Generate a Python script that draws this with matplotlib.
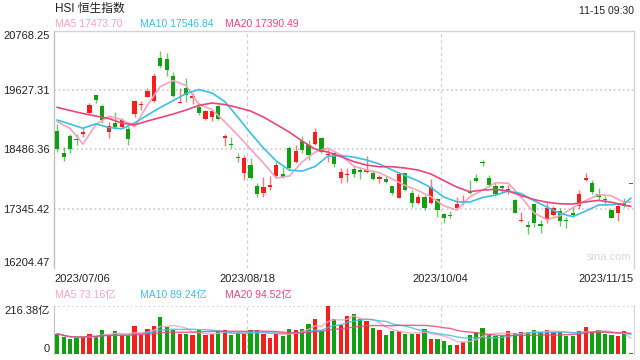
import numpy as np
import pandas as pd
import matplotlib
matplotlib.use('Agg')
import matplotlib.pyplot as plt

plt.rcParams['font.family'] = ['Liberation Sans', 'Noto Sans CJK SC', 'DejaVu Sans']

# daily candles 2023/07/06 .. 2023/11/15
opens = [18844, 18410, 18742, 18670, 18775, 19191, 19531, 19320, 18825, 18987,
         18921, 18871, 19166, 19330, 19498, 19416, 20237, 20218, 19897, 19383,
         19660, 19479, 19294, 19064, 19114, 19320, 18698, 18575, 18338, 18025,
         18184, 17780, 17640, 17755, 17973, 18011, 18517, 18248, 18652, 18569,
         18588, 18698, 18370, 18410, 17928, 17985, 18102, 18088, 18055, 18036,
         17921, 17909, 17780, 17555, 18025, 17640, 17459, 17574, 17459, 17524,
         17236, 17215, 17351, 17470, 17690, 17928, 18235, 17928, 17780, 17780,
         17698, 17511, 17108, 17030, 17434, 17043, 17126, 17222, 17305, 17112,
         17267, 17396, 17896, 17844, 17626, 17516, 17319, 17255, 17459, 17825]
highs = [18967, 18531, 18781, 18775, 18921, 19377, 19540, 19358, 19017, 19210,
         19089, 18935, 19435, 19416, 19672, 19949, 20378, 20334, 19979, 19660,
         19852, 19564, 19371, 19243, 19243, 19339, 18775, 18729, 18425, 18377,
         18313, 17844, 17948, 17973, 18248, 18140, 18550, 18569, 18742, 18665,
         18902, 18729, 18487, 18440, 18121, 18121, 18184, 18152, 18358, 18088,
         17992, 17973, 17790, 18055, 18036, 17703, 17626, 17607, 17909, 17549,
         17267, 17305, 17574, 17607, 17896, 18011, 18281, 17992, 17832, 17800,
         17800, 17530, 17286, 17113, 17440, 17126, 17459, 17396, 17357, 17190,
         17396, 17703, 18025, 17896, 17736, 17588, 17338, 17447, 17549, 17825]
lows = [18440, 18267, 18415, 18569, 18729, 19166, 19371, 18993, 18710, 18871,
        18896, 18563, 19114, 19243, 19487, 19402, 20045, 19902, 19487, 19371,
        19402, 19358, 19146, 19050, 19031, 19050, 18550, 18506, 18248, 17896,
        17909, 17563, 17563, 17703, 17928, 17928, 18102, 18229, 18421, 18281,
        18569, 18421, 18248, 18152, 17832, 17863, 17959, 17909, 18025, 17896,
        17832, 17832, 17607, 17549, 17690, 17370, 17444, 17319, 17444, 17190,
        17074, 17159, 17338, 17415, 17626, 17850, 18165, 17771, 17588, 17640,
        17621, 17261, 17088, 16857, 16986, 16882, 17063, 17203, 17011, 16966,
        17184, 17332, 17882, 17626, 17511, 17434, 17165, 17113, 17377, 17815]
closes = [18487, 18344, 18487, 18660, 18825, 19339, 19435, 19050, 18935, 18921,
          19050, 18679, 19416, 19345, 19608, 19897, 20089, 20012, 19512, 19402,
          19531, 19512, 19179, 19223, 19223, 19064, 18742, 18565, 18326, 18313,
          17928, 17626, 17767, 17800, 18184, 17948, 18121, 18460, 18473, 18377,
          18825, 18440, 18385, 18198, 18055, 18000, 18005, 18050, 18088, 17915,
          17959, 17863, 17651, 18005, 17703, 17459, 17563, 17351, 17755, 17319,
          17170, 17205, 17428, 17485, 17651, 17877, 18225, 17800, 17621, 17748,
          17710, 17267, 17118, 16986, 17063, 17011, 17351, 17363, 17113, 17100,
          17222, 17626, 17928, 17671, 17563, 17506, 17170, 17396, 17396, 17815]
# turnover, 亿
volume = [91.3, 76.5, 66.2, 73.6, 76.5, 91.3, 79.5, 110.4, 83.9, 101.6,
          83.9, 79.5, 128.1, 83.9, 113.3, 128.1, 167.8, 123.6, 110.4, 88.3,
          91.3, 83.9, 106.0, 83.9, 88.3, 103.0, 110.4, 83.9, 98.6, 88.3,
          106.0, 106.0, 91.3, 73.6, 88.3, 79.5, 114.8, 110.4, 114.8, 135.4,
          159.0, 103.0, 216.38, 159.0, 129.5, 172.2, 182.5, 157.5, 147.2, 117.8,
          106.0, 83.9, 101.6, 103.0, 91.3, 91.3, 91.3, 114.8, 69.2, 69.2,
          58.9, 42.7, 42.7, 54.5, 83.9, 98.6, 119.2, 83.9, 82.4, 82.4,
          103.0, 94.2, 98.6, 98.6, 106.0, 98.6, 108.9, 98.6, 98.6, 81.0,
          82.4, 103.0, 123.6, 98.6, 110.4, 88.3, 83.9, 81.0, 101.6, 2.9]

# moving averages read every second day
ma_idx = list(range(0, 89, 2)) + [89]
ma5 = [19017, 18890, 18588, 18964, 19121, 19060, 18921, 19339, 19695, 19810,
       19714, 19348, 19252, 19017, 18762, 18492, 18223, 17934, 17973, 18242,
       18434, 18511, 18377, 18165, 18088, 18036, 17915, 17790, 17694, 17574,
       17401, 17319, 17569, 17703, 17844, 17834, 17569, 17261, 17134, 17207,
       17361, 17501, 17613, 17594, 17463, 17473.70]
ma10 = [19050, 18973, 18892, 18977, 18906, 18881, 18993, 19146, 19291, 19425,
        19560, 19637, 19570, 19406, 19108, 18800, 18511, 18261, 18088, 18069,
        18155, 18358, 18367, 18338, 18281, 18204, 18088, 17982, 17878, 17751,
        17569, 17478, 17472, 17561, 17605, 17684, 17636, 17497, 17376, 17255,
        17193, 17299, 17415, 17421, 17444, 17546.84]
ma20 = [19294, 19233, 19175, 19127, 19079, 18993, 18958, 19031, 19098, 19166,
        19243, 19333, 19377, 19348, 19291, 19223, 19108, 18964, 18819, 18646,
        18492, 18434, 18348, 18252, 18184, 18152, 18152, 18127, 18088, 18011,
        17886, 17761, 17671, 17703, 17717, 17684, 17598, 17521, 17469, 17440,
        17434, 17476, 17505, 17469, 17411, 17390.49]

y_ticks = [16204.47, 17345.42, 18486.36, 19627.31, 20768.25]
dates = ['2023/07/06', '2023/08/18', '2023/10/04', '2023/11/15']
vol_max = 216.38
vol_ma = {'MA5': 73.16, 'MA10': 89.24, 'MA20': 94.52}

RED = '#f2201b'
GREEN = '#10a010'
C5, C10, C20 = '#f7a3be', '#3dbfe4', '#e9457c'
GRID = '#d0d0d0'

n = len(opens)
x = np.arange(n)
o = np.array(opens, float)
c = np.array(closes, float)
up = c >= o
cols = np.where(up, RED, GREEN)

fig = plt.figure(figsize=(6.4, 3.6), dpi=100)
ax = fig.add_axes([54/640, 1-268/360, 580/640, 237.3/360])
axv = fig.add_axes([54/640, 1-354/360, 580/640, 48/360])

# candles
ax.vlines(x, lows, highs, colors=cols, lw=1, alpha=0.6, zorder=2)
body = np.maximum(np.abs(c - o), 20)
ax.bar(x, body, bottom=np.minimum(o, c), width=0.64, color=cols, zorder=3)

ax.plot(ma_idx, ma5, color=C5, lw=1.2, zorder=4)
ax.plot(ma_idx, ma10, color=C10, lw=1.2, zorder=4)
ax.plot(ma_idx, ma20, color=C20, lw=1.2, zorder=4)

ax.set_xlim(-0.5, n - 0.5)
ax.set_ylim(y_ticks[0], y_ticks[-1])
for v in y_ticks[1:-1]:
    ax.axhline(v, color=GRID, lw=1.3, ls=(0, (1, 1.5)), zorder=1)
xg = np.linspace(-0.5, n - 0.5, 4)
for v in xg[1:-1]:
    ax.axvline(v, color=GRID, lw=0.9, ls=(0, (2.5, 2.5)), zorder=1)
    axv.axvline(v, color=GRID, lw=0.9, ls=(0, (2.5, 2.5)), zorder=1)

ax.set_yticks(y_ticks)
ax.set_yticklabels([f'{v:.2f}' for v in y_ticks])
ax.set_xticks(xg)
ax.set_xticklabels(dates)
ax.tick_params(length=0, labelsize=8, colors='#222222', pad=3)
ax.tick_params(axis='x', pad=4)
ylab = ax.get_yticklabels()
ylab[0].set_va('bottom')
ylab[-1].set_va('top')
xlab = ax.get_xticklabels()
xlab[0].set_ha('left')
xlab[-1].set_ha('right')
for s in ax.spines.values():
    s.set_color('#d4d4d4')
    s.set_linewidth(1)
ax.spines['left'].set_color('#c0c0c0')
ax.spines['bottom'].set_visible(False)
ax.text(0.995, 0.045, 'sina.com', transform=ax.transAxes, ha='right', va='center',
        fontsize=8, color='#d8d8d8')

# volume
axv.bar(x, volume, width=0.64, color=cols, zorder=3)
vs = pd.Series(volume)
axv.plot(x, vs.rolling(5, min_periods=1).mean(), color=C5, lw=1, alpha=0.85, zorder=4)
axv.plot(x, vs.rolling(10, min_periods=1).mean(), color=C10, lw=1, alpha=0.85, zorder=4)
axv.plot(x, vs.rolling(20, min_periods=1).mean(), color=C20, lw=1, alpha=0.85, zorder=4)
axv.set_xlim(-0.5, n - 0.5)
axv.set_ylim(0, vol_max)
axv.axhline(vol_max, color=GRID, lw=1.3, ls=(0, (1, 1.5)), zorder=1)
axv.set_xticks([])
axv.set_yticks([0, vol_max])
axv.set_yticklabels(['0', f'{vol_max:.2f}亿'])
axv.tick_params(length=0, labelsize=8, colors='#222222', pad=3)
vlab = axv.get_yticklabels()
vlab[0].set_va('bottom')
vlab[-1].set_va('top')
for k in ['top', 'bottom']:
    axv.spines[k].set_visible(False)
axv.spines['left'].set_color('#c0c0c0')
axv.spines['right'].set_color('#d4d4d4')

# header texts
fig.text(55/640, 1-9/360, 'HSI 恒生指数', fontsize=8.5, color='#222222', va='center')
fig.text(634/640, 1-11/360, '11-15 09:30', fontsize=7.5, color='#222222', va='center', ha='right')
fig.text(55/640, 1-24/360, f'MA5 {ma5[-1]:.2f}', fontsize=7.5, color=C5, va='center')
fig.text(140/640, 1-24/360, f'MA10 {ma10[-1]:.2f}', fontsize=7.5, color=C10, va='center')
fig.text(225/640, 1-24/360, f'MA20 {ma20[-1]:.2f}', fontsize=7.5, color=C20, va='center')
fig.text(55/640, 1-295/360, f"MA5 {vol_ma['MA5']:.2f}亿", fontsize=7.5, color=C5, va='center')
fig.text(140/640, 1-295/360, f"MA10 {vol_ma['MA10']:.2f}亿", fontsize=7.5, color=C10, va='center')
fig.text(225/640, 1-295/360, f"MA20 {vol_ma['MA20']:.2f}亿", fontsize=7.5, color=C20, va='center')

fig.savefig('out.png', dpi=100)
